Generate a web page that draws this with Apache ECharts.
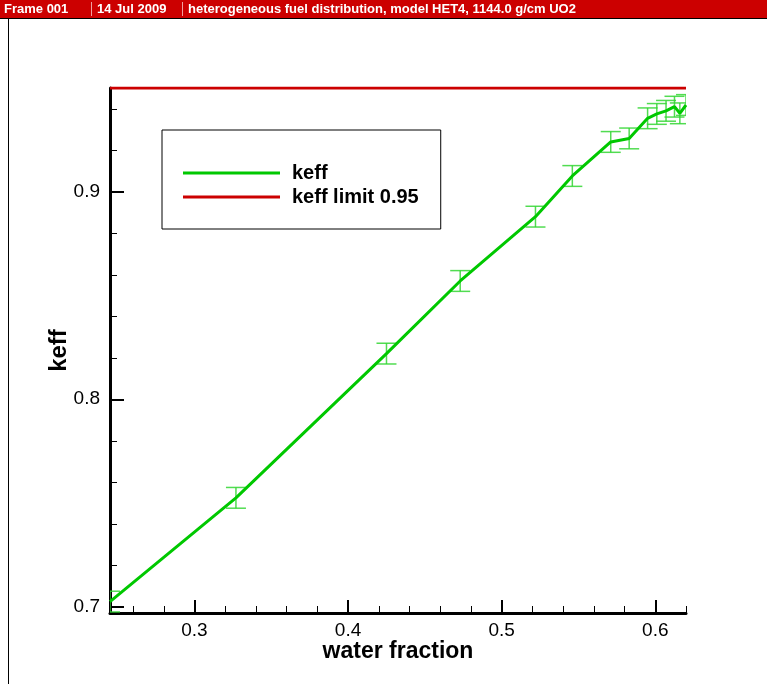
<!DOCTYPE html>
<html>
<head>
<meta charset="utf-8">
<script src="https://cdn.jsdelivr.net/npm/echarts@6/dist/echarts.min.js"></script>
<style>
html,body{margin:0;padding:0;background:#fff;}
#c{width:767px;height:684px;}
</style>
</head>
<body>
<div id="c"></div>
<script>
// ---- data ----
const waterFraction = [0.245, 0.327, 0.425, 0.473, 0.522, 0.546, 0.571, 0.583, 0.595, 0.601, 0.607, 0.6125, 0.616, 0.62];
const keffValues    = [0.7025, 0.7525, 0.822, 0.857, 0.888, 0.9076, 0.924, 0.9257, 0.9354, 0.9375, 0.939, 0.941, 0.9378, 0.9418];
const keffErrors    = [0.005, 0.005, 0.005, 0.005, 0.005, 0.005, 0.005, 0.005, 0.005, 0.005, 0.005, 0.005, 0.005, 0.005];
const keffLimit = 0.95;
const xMajorTicks = [0.3, 0.4, 0.5, 0.6];
const xMinorTicks = [0.26, 0.28, 0.32, 0.34, 0.36, 0.38, 0.42, 0.44, 0.46, 0.48, 0.52, 0.54, 0.56, 0.58, 0.62];
const yMajorTicks = [0.7, 0.8, 0.9];
const yMinorTicks = [0.72, 0.74, 0.76, 0.78, 0.82, 0.84, 0.86, 0.88, 0.92, 0.94];
const xRange = [0.245, 0.62];
const yRange = [0.697, 0.95];
const headerTexts = ['Frame 001', '14 Jul 2009', 'heterogeneous fuel distribution, model HET4, 1144.0 g/cm UO2'];

const chart = echarts.init(document.getElementById('c'), null, {renderer: 'canvas'});
const FONT = 'Liberation Sans, Arial, sans-serif';

const keffData = waterFraction.map((x, i) => [x, keffValues[i]]);
const errData = waterFraction.map((x, i) => [x, keffValues[i], keffErrors[i]]);
const limitData = [[xRange[0], keffLimit], [xRange[1], keffLimit]];

function baseAxis(extra) {
  return Object.assign({
    type: 'value',
    splitLine: {show: false},
    axisLine: {show: false},
    axisTick: {show: false},
    axisLabel: {show: false}
  }, extra);
}

const option = {
  animation: false,
  backgroundColor: '#fff',
  grid: {left: 110, right: 81, top: 88, bottom: 71, containLabel: false},
  legend: {
    orient: 'vertical',
    left: 162, top: 130,
    padding: [33, 22, 22, 21],
    itemGap: 4,
    itemWidth: 97,
    itemHeight: 3,
    itemTextGap: 12,
    icon: 'rect',
    borderColor: '#000',
    borderWidth: 1,
    backgroundColor: '#fff',
    textStyle: {fontFamily: FONT, fontSize: 20, fontWeight: 'bold', color: '#000', lineHeight: 20, padding: [0, 0, 0, 7]},
    data: ['keff', 'keff limit 0.95']
  },
  xAxis: [
    baseAxis({
      min: xRange[0], max: xRange[1],
      name: 'water fraction', nameLocation: 'middle', nameGap: 27, nameMoveOverlap: false,
      nameTextStyle: {fontFamily: FONT, fontSize: 23, fontWeight: 'bold', color: '#000'},
      axisLine: {show: true, onZero: false, lineStyle: {color: '#000', width: 3}},
      axisTick: {show: true, inside: true, length: 13, customValues: xMajorTicks, lineStyle: {color: '#000', width: 2}},
      axisLabel: {show: true, customValues: xMajorTicks, margin: 8, fontFamily: FONT, fontSize: 19, color: '#000',
                  formatter: v => v.toFixed(1)}
    }),
    baseAxis({
      min: xRange[0], max: xRange[1], position: 'bottom',
      axisTick: {show: true, inside: true, length: 7, customValues: xMinorTicks, lineStyle: {color: '#000', width: 1}}
    })
  ],
  yAxis: [
    baseAxis({
      min: yRange[0], max: yRange[1],
      name: 'keff', nameLocation: 'middle', nameGap: 39, nameRotate: 90, nameMoveOverlap: false,
      nameTextStyle: {fontFamily: FONT, fontSize: 24, fontWeight: 'bold', color: '#000'},
      axisLine: {show: true, onZero: false, lineStyle: {color: '#000', width: 3}},
      axisTick: {show: true, inside: true, length: 14, customValues: yMajorTicks, lineStyle: {color: '#000', width: 2}},
      axisLabel: {show: true, customValues: yMajorTicks, margin: 10, fontFamily: FONT, fontSize: 19, color: '#000',
                  formatter: v => v.toFixed(1)}
    }),
    baseAxis({
      min: yRange[0], max: yRange[1], position: 'left',
      axisTick: {show: true, inside: true, length: 7, customValues: yMinorTicks, lineStyle: {color: '#000', width: 1}}
    })
  ],
  series: [
    {
      name: 'keff', type: 'line', data: keffData, xAxisIndex: 0, yAxisIndex: 0,
      symbol: 'none', lineStyle: {color: '#00c800', width: 3}, itemStyle: {color: '#00c800'}, z: 5
    },
    {
      name: 'keff limit 0.95', type: 'line', data: limitData, xAxisIndex: 0, yAxisIndex: 0,
      symbol: 'none', lineStyle: {color: '#cc0000', width: 3}, itemStyle: {color: '#cc0000'}, z: 6
    },
    {
      name: 'keff error', type: 'custom', data: errData, xAxisIndex: 0, yAxisIndex: 0, z: 4, clip: true,
      renderItem: function (params, api) {
        const x = api.value(0), y = api.value(1), e = api.value(2);
        const t = api.coord([x, y + e]);
        const b = api.coord([x, y - e]);
        const hw = 10;
        const st = {stroke: '#33d633', lineWidth: 1.5, opacity: 0.85};
        return {
          type: 'group',
          children: [
            {type: 'line', shape: {x1: t[0], y1: t[1], x2: b[0], y2: b[1]}, style: st},
            {type: 'line', shape: {x1: t[0] - hw, y1: t[1], x2: t[0] + hw, y2: t[1]}, style: st},
            {type: 'line', shape: {x1: b[0] - hw, y1: b[1], x2: b[0] + hw, y2: b[1]}, style: st}
          ]
        };
      }
    }
  ],
  graphic: [
    {type: 'rect', shape: {x: 0, y: 0, width: 767, height: 18}, style: {fill: '#cc0000'}, z: 10},
    {type: 'rect', shape: {x: 0, y: 18, width: 767, height: 1}, style: {fill: '#000'}, z: 10},
    {type: 'rect', shape: {x: 8, y: 18, width: 1, height: 666}, style: {fill: '#000'}, z: 10},
    {type: 'rect', shape: {x: 91, y: 2, width: 1, height: 14}, style: {fill: '#f0a0a0'}, z: 11},
    {type: 'rect', shape: {x: 182, y: 2, width: 1, height: 14}, style: {fill: '#f0a0a0'}, z: 11},
    {type: 'text', x: 4, y: 9, style: {text: headerTexts[0], fill: '#fff', font: 'bold 13px ' + FONT, verticalAlign: 'middle'}, z: 12},
    {type: 'text', x: 97, y: 9, style: {text: headerTexts[1], fill: '#fff', font: 'bold 13px ' + FONT, verticalAlign: 'middle'}, z: 12},
    {type: 'text', x: 188, y: 9, style: {text: headerTexts[2], fill: '#fff', font: 'bold 13px ' + FONT, verticalAlign: 'middle'}, z: 12}
  ]
};
chart.setOption(option);
</script>
</body>
</html>
